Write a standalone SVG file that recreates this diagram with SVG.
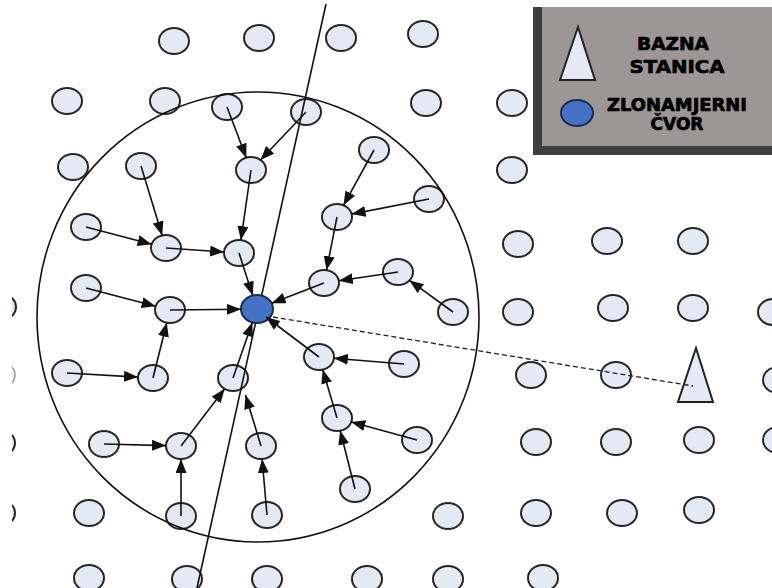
<svg xmlns="http://www.w3.org/2000/svg" width="772" height="588" viewBox="0 0 772 588">
<style>
.node{fill:#E4EAF4;stroke:#262626;stroke-width:2}
.faint{fill:#EEF1F6;stroke:#9a9a9a;stroke-width:1.5}
.mal{fill:#4472C4;stroke:#1c2c4c;stroke-width:2}
.bs{fill:#E4EAF4;stroke:#222;stroke-width:2;stroke-linejoin:miter}
.ln{fill:none;stroke:#111;stroke-width:1.6}
.arr{fill:none;stroke:#111;stroke-width:1.6;marker-end:url(#ah)}
.dash{fill:none;stroke:#222;stroke-width:1.3;stroke-dasharray:5 3}
.lt{font-family:"DejaVu Sans","Liberation Sans",sans-serif;font-weight:bold;fill:#000;stroke:#000;stroke-width:0.7;text-anchor:middle}
</style>
<defs>
<marker id="ah" markerUnits="userSpaceOnUse" markerWidth="14" markerHeight="11" refX="14" refY="5.5" orient="auto">
<path d="M0,0 L14,5.5 L0,11 z" fill="#111"/>
</marker>
<clipPath id="clipL"><rect x="12" y="0" width="760" height="588"/></clipPath>
</defs>
<rect x="0" y="0" width="772" height="588" fill="#fff"/>
<g id="nodes">
<g id="n1"><ellipse class="node" cx="174" cy="41" rx="15" ry="13"/></g>
<g id="n2"><ellipse class="node" cx="259" cy="38" rx="15" ry="13"/></g>
<g id="n3"><ellipse class="node" cx="341" cy="38" rx="15" ry="13"/></g>
<g id="n4"><ellipse class="node" cx="423" cy="34" rx="15" ry="13"/></g>
<g id="n5"><ellipse class="node" cx="67" cy="101" rx="15" ry="13"/></g>
<g id="n6"><ellipse class="node" cx="165" cy="101" rx="15" ry="13"/></g>
<g id="n7"><ellipse class="node" cx="227" cy="107" rx="15" ry="13"/></g>
<g id="n8"><ellipse class="node" cx="306" cy="112" rx="15" ry="13"/></g>
<g id="n9"><ellipse class="node" cx="426" cy="103" rx="15" ry="13"/></g>
<g id="n10"><ellipse class="node" cx="512" cy="103" rx="15" ry="13"/></g>
<g id="n11"><ellipse class="node" cx="73" cy="167" rx="15" ry="13"/></g>
<g id="n12"><ellipse class="node" cx="141" cy="166" rx="15" ry="13"/></g>
<g id="n13"><ellipse class="node" cx="251" cy="170" rx="15" ry="13"/></g>
<g id="n14"><ellipse class="node" cx="374" cy="150" rx="15" ry="13"/></g>
<g id="n15"><ellipse class="node" cx="512" cy="170" rx="15" ry="13"/></g>
<g id="n16"><ellipse class="node" cx="429" cy="199" rx="15" ry="13"/></g>
<g id="n17"><ellipse class="node" cx="337" cy="217" rx="15" ry="13"/></g>
<g id="n18"><ellipse class="node" cx="86" cy="227" rx="15" ry="13"/></g>
<g id="n19"><ellipse class="node" cx="166" cy="248" rx="15" ry="13"/></g>
<g id="n20"><ellipse class="node" cx="239" cy="253" rx="15" ry="13"/></g>
<g id="n21"><ellipse class="node" cx="518" cy="244" rx="15" ry="13"/></g>
<g id="n22"><ellipse class="node" cx="607" cy="241" rx="15" ry="13"/></g>
<g id="n23"><ellipse class="node" cx="693" cy="241" rx="15" ry="13"/></g>
<g id="n24"><ellipse class="node" cx="398" cy="272" rx="15" ry="13"/></g>
<g id="n25"><ellipse class="node" cx="324" cy="283" rx="15" ry="13"/></g>
<g id="n26"><ellipse class="node" cx="86" cy="288" rx="15" ry="13"/></g>
<g id="n27"><ellipse class="node" cx="170" cy="310" rx="15" ry="13"/></g>
<g id="n28"><ellipse class="node" cx="453" cy="312" rx="15" ry="13"/></g>
<g id="n29"><ellipse class="node" cx="518" cy="312" rx="15" ry="13"/></g>
<g id="n30"><ellipse class="node" cx="613" cy="308" rx="15" ry="13"/></g>
<g id="n31"><ellipse class="node" cx="693" cy="308" rx="15" ry="13"/></g>
<g id="n32" clip-path="url(#clipL)"><ellipse class="node" cx="1" cy="307" rx="15" ry="13"/></g>
<g id="n33"><ellipse class="node" cx="773" cy="312" rx="15" ry="13"/></g>
<g id="n34"><ellipse class="node" cx="319" cy="357" rx="15" ry="13"/></g>
<g id="n35"><ellipse class="node" cx="404" cy="364" rx="15" ry="13"/></g>
<g id="n36"><ellipse class="node" cx="67" cy="373" rx="15" ry="13"/></g>
<g id="n37"><ellipse class="node" cx="153" cy="378" rx="15" ry="13"/></g>
<g id="n38"><ellipse class="node" cx="233" cy="378" rx="15" ry="13"/></g>
<g id="n39"><ellipse class="node" cx="531" cy="375" rx="15" ry="13"/></g>
<g id="n40"><ellipse class="node" cx="616" cy="375" rx="15" ry="13"/></g>
<g id="n41" clip-path="url(#clipL)"><ellipse class="faint" cx="0" cy="375" rx="15" ry="13"/></g>
<g id="n42"><ellipse class="node" cx="778" cy="380" rx="15" ry="13"/></g>
<g id="n43"><ellipse class="node" cx="337" cy="418" rx="15" ry="13"/></g>
<g id="n44"><ellipse class="node" cx="417" cy="440" rx="15" ry="13"/></g>
<g id="n45"><ellipse class="node" cx="104" cy="444" rx="15" ry="13"/></g>
<g id="n46"><ellipse class="node" cx="181" cy="446" rx="15" ry="13"/></g>
<g id="n47"><ellipse class="node" cx="261" cy="446" rx="15" ry="13"/></g>
<g id="n48"><ellipse class="node" cx="536" cy="442" rx="15" ry="13"/></g>
<g id="n49"><ellipse class="node" cx="616" cy="442" rx="15" ry="13"/></g>
<g id="n50"><ellipse class="node" cx="699" cy="440" rx="15" ry="13"/></g>
<g id="n51" clip-path="url(#clipL)"><ellipse class="node" cx="0" cy="443" rx="15" ry="13"/></g>
<g id="n52"><ellipse class="node" cx="778" cy="440" rx="15" ry="13"/></g>
<g id="n53"><ellipse class="node" cx="355" cy="489" rx="15" ry="13"/></g>
<g id="n54"><ellipse class="node" cx="89" cy="513" rx="15" ry="13"/></g>
<g id="n55"><ellipse class="node" cx="181" cy="516" rx="15" ry="13"/></g>
<g id="n56"><ellipse class="node" cx="267" cy="515" rx="15" ry="13"/></g>
<g id="n57"><ellipse class="node" cx="448" cy="516" rx="15" ry="13"/></g>
<g id="n58"><ellipse class="node" cx="536" cy="513" rx="15" ry="13"/></g>
<g id="n59"><ellipse class="node" cx="622" cy="513" rx="15" ry="13"/></g>
<g id="n60"><ellipse class="node" cx="699" cy="510" rx="15" ry="13"/></g>
<g id="n61" clip-path="url(#clipL)"><ellipse class="node" cx="0" cy="513" rx="15" ry="13"/></g>
<g id="n62"><ellipse class="node" cx="89" cy="578" rx="15" ry="13"/></g>
<g id="n63"><ellipse class="node" cx="187" cy="579" rx="15" ry="13"/></g>
<g id="n64"><ellipse class="node" cx="267" cy="579" rx="15" ry="13"/></g>
<g id="n65"><ellipse class="node" cx="367" cy="579" rx="15" ry="13"/></g>
<g id="n66"><ellipse class="node" cx="448" cy="579" rx="15" ry="13"/></g>
<g id="n67"><ellipse class="node" cx="543" cy="578" rx="15" ry="13"/></g>
<g id="base-station"><polygon class="bs" points="696,348 678,402 713,402"/></g>
</g>
<g id="range"><ellipse class="ln" cx="258" cy="317" rx="221" ry="225"/></g>
<g id="connectors">
<line class="ln" x1="326" y1="4" x2="197" y2="588"/>
<line class="dash" x1="273" y1="317" x2="693" y2="386"/>
</g>
<g id="malicious"><ellipse class="mal" cx="257" cy="309" rx="16" ry="14"/></g>
<g id="arrows">
<line class="arr" x1="227" y1="107" x2="246.3" y2="157.7"/>
<line class="arr" x1="306" y1="112" x2="260.5" y2="160"/>
<line class="arr" x1="251" y1="170" x2="240.9" y2="240.1"/>
<line class="arr" x1="239" y1="253" x2="252.7" y2="295.5"/>
<line class="arr" x1="141" y1="166" x2="162.2" y2="235.4"/>
<line class="arr" x1="86" y1="227" x2="151.6" y2="244.2"/>
<line class="arr" x1="166" y1="248" x2="224.1" y2="252"/>
<line class="arr" x1="86" y1="288" x2="155.6" y2="306.2"/>
<line class="arr" x1="170" y1="310" x2="241" y2="309.2"/>
<line class="arr" x1="374" y1="150" x2="343.5" y2="205.3"/>
<line class="arr" x1="429" y1="199" x2="351.6" y2="214.1"/>
<line class="arr" x1="337" y1="217" x2="326.5" y2="270.2"/>
<line class="arr" x1="398" y1="272" x2="338.8" y2="280.8"/>
<line class="arr" x1="324" y1="283" x2="271.6" y2="303.3"/>
<line class="arr" x1="453" y1="312" x2="409.5" y2="280.4"/>
<line class="arr" x1="319" y1="357" x2="266" y2="317"/>
<line class="arr" x1="404" y1="364" x2="333.9" y2="358.2"/>
<line class="arr" x1="337" y1="418" x2="322.7" y2="369.6"/>
<line class="arr" x1="417" y1="440" x2="351.3" y2="421.9"/>
<line class="arr" x1="355" y1="489" x2="340.2" y2="430.7"/>
<line class="arr" x1="67" y1="373" x2="138" y2="377.1"/>
<line class="arr" x1="153" y1="378" x2="166.8" y2="322.7"/>
<line class="arr" x1="233" y1="378" x2="252.3" y2="322.4"/>
<line class="arr" x1="181" y1="446" x2="224.7" y2="388.8"/>
<line class="arr" x1="104" y1="444" x2="166" y2="445.6"/>
<line class="arr" x1="181" y1="516" x2="181" y2="459"/>
<line class="arr" x1="261" y1="446" x2="245.5" y2="395"/>
<line class="arr" x1="267" y1="515" x2="262.1" y2="459"/>
</g>
<g id="legend">
<rect x="533" y="7" width="239" height="148" fill="#3f3f3f"/>
<rect x="542" y="7" width="230" height="139" fill="#9D9696"/>
<polygon class="bs" points="578,27 560,80 595,80"/>
<ellipse class="mal" cx="577" cy="113" rx="16" ry="13"/>
<text class="lt" x="673" y="50" font-size="18" textLength="72" lengthAdjust="spacingAndGlyphs">BAZNA</text>
<text class="lt" x="677" y="73" font-size="18" textLength="95" lengthAdjust="spacingAndGlyphs">STANICA</text>
<text class="lt" x="677" y="111" font-size="17" textLength="140" lengthAdjust="spacingAndGlyphs">ZLONAMJERNI</text>
<text class="lt" x="677" y="130" font-size="17" textLength="53" lengthAdjust="spacingAndGlyphs">ČVOR</text>
</g>
</svg>
